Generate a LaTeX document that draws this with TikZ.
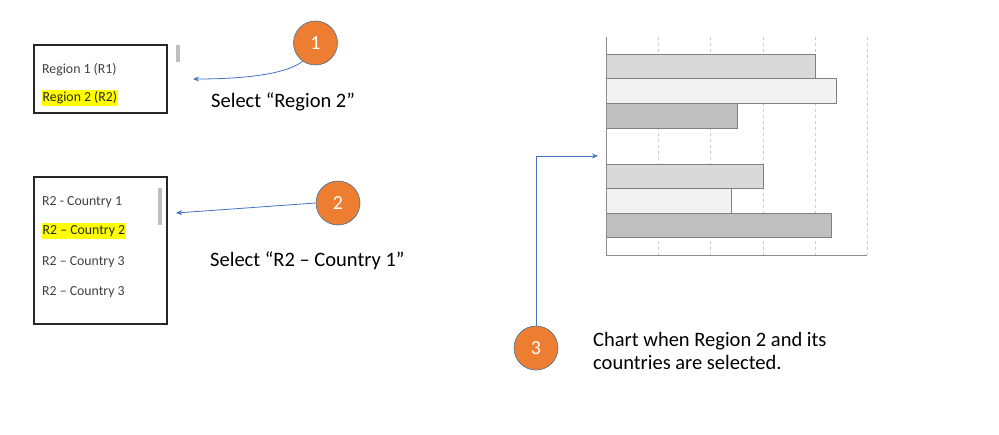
\documentclass[tikz,border=0pt]{standalone}
\usepackage{fontspec}
\setmainfont{Carlito}
\usetikzlibrary{arrows.meta}
\definecolor{orangec}{HTML}{ED7D31}
\definecolor{ringc}{HTML}{41719C}
\definecolor{arrowc}{HTML}{4472C4}
\definecolor{hl}{HTML}{FFFF00}
\definecolor{listtext}{HTML}{404040}
\tikzset{
  listbox/.style={draw=black!85, line width=1.2pt},
  thumb/.style={fill=black!25, draw=none},
  item/.style={anchor=west, inner sep=0pt, text=listtext, font=\fontsize{13.8}{16}\selectfont},
  hitem/.style={item, fill=hl, inner ysep=2pt, inner xsep=0.5pt, text=black!85},
  badge/.style={circle, fill=orangec, draw=ringc, line width=0.6pt, minimum size=44pt, inner sep=0pt, text=white, font=\fontsize{20}{22}\selectfont},
  caption/.style={anchor=west, inner sep=0pt, font=\fontsize{20.5}{22.5}\selectfont, align=left},
  conn/.style={draw=arrowc, line width=0.8pt, -{Stealth[length=6pt,width=5pt]}},
  gridl/.style={draw=black!20, dashed, line width=0.6pt},
  axisl/.style={draw=black!45, line width=0.8pt},
  bar/.style={draw=black!50, line width=0.7pt}
}
\begin{document}
\begin{tikzpicture}[x=1pt,y=-1pt]
\useasboundingbox (0,0) rectangle (999,434);
% list box 1
\draw[listbox] (34,45) rectangle (167,113);
\fill[thumb] (176,45) rectangle (180,62);
\node[item] (r1) at (42,70) {Region 1 (R1)};
\node[hitem] (r2) at (42,98) {Region 2 (R2)};
% list box 2
\draw[listbox] (34,177) rectangle (167,324);
\fill[thumb] (158,188) rectangle (162,225);
\node[item] (c1) at (42,202) {R2 - Country 1};
\node[hitem] (c2) at (42,231) {R2 – Country 2};
\node[item] (c3) at (42,262) {R2 – Country 3};
\node[item] (c4) at (42,292) {R2 – Country 3};
% badges
\node[badge] (b1) at (315.5,43) {1};
\node[badge] (b2) at (338,203) {2};
\node[badge] (b3) at (536,348) {3};
\coordinate (t1) at (193,79);
\coordinate (t2) at (176,213);
\coordinate (t3) at (598,156);
\draw[conn] (b1.235) .. controls (285,75) and (240,79) .. (t1);
\draw[conn] (b2.west) -- (t2);
\draw[conn] (b3.north) |- (t3);
% captions
\node[caption] (s1) at (211,102) {Select “Region 2”};
\node[caption] (s2) at (210,261) {Select “R2 – Country 1”};
\node[caption] (s3) at (593,351) {Chart when Region 2 and its\\countries are selected.};
% chart
\foreach \gx in {658,710,763,815,867} \draw[gridl] (\gx,37) -- (\gx,255);
\draw[bar, fill=black!15] (606,54) rectangle (815,78);
\draw[bar, fill=black!5] (606,78) rectangle (836,103);
\draw[bar, fill=black!25] (606,103) rectangle (737,128);
\draw[bar, fill=black!15] (606,164) rectangle (763,188);
\draw[bar, fill=black!5] (606,188) rectangle (731,213);
\draw[bar, fill=black!25] (606,213) rectangle (831,237);
\draw[axisl] (606,37) -- (606,255) -- (867,255);
\end{tikzpicture}
\end{document}
